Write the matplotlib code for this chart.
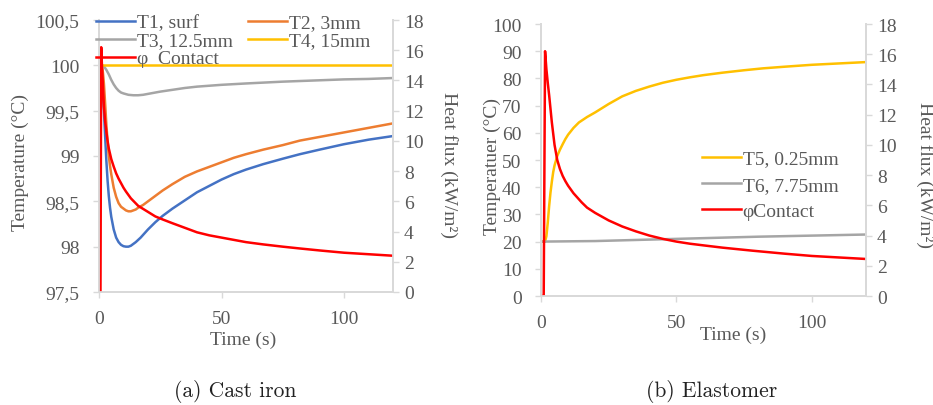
import matplotlib
matplotlib.use("Agg")
import matplotlib.pyplot as plt
from matplotlib.lines import Line2D

plt.rcParams['font.family'] = ['Liberation Serif', 'DejaVu Serif']
plt.rcParams['font.size'] = 14
TXT = '#595959'
SPINE = '#D9D9D9'

# ---- (a) cast iron ----
t_t1 = [0, 1, 1.3, 1.6, 2, 2.5, 3, 3.5, 4, 4.5, 5, 6, 7, 8, 9, 10, 11, 12, 13, 14, 15, 17, 20,
        23, 26, 30, 35, 40, 45, 50, 55, 60, 67, 75, 82, 90, 100, 110, 120]
T1 = [100, 100, 99.9, 99.75, 99.5, 99.22, 98.95, 98.73, 98.56, 98.43, 98.33, 98.19, 98.1, 98.05,
      98.02, 98.005, 98.0, 98.0, 98.01, 98.03, 98.05, 98.1, 98.19, 98.27, 98.34, 98.42, 98.51,
      98.6, 98.67, 98.74, 98.8, 98.85, 98.91, 98.97, 99.02, 99.07, 99.13, 99.18, 99.22]
t_t2 = [0, 1, 1.3, 1.6, 2, 2.5, 3, 3.5, 4, 4.5, 5, 6, 7, 8, 9, 10, 11, 12, 13, 14, 15, 16, 18,
        20, 23, 26, 30, 35, 40, 45, 50, 55, 60, 67, 75, 82, 90, 100, 110, 120]
T2 = [100, 100, 99.98, 99.92, 99.8, 99.58, 99.35, 99.16, 99.0, 98.89, 98.8, 98.65, 98.55, 98.48,
      98.44, 98.42, 98.4, 98.39, 98.39, 98.4, 98.41, 98.43, 98.46, 98.5, 98.56, 98.62, 98.69,
      98.77, 98.83, 98.88, 98.93, 98.98, 99.02, 99.07, 99.12, 99.17, 99.21, 99.26, 99.31, 99.36]
t_t3 = [0, 1, 2, 3, 4, 5, 6, 7, 8, 9, 10, 12, 14, 16, 18, 21, 25, 30, 35, 40, 50, 60, 75, 90,
        100, 110, 120]
T3 = [100, 100, 99.99, 99.95, 99.9, 99.84, 99.79, 99.75, 99.72, 99.7, 99.69, 99.675, 99.67,
      99.67, 99.675, 99.69, 99.71, 99.73, 99.75, 99.765, 99.785, 99.8, 99.82, 99.835, 99.845,
      99.85, 99.86]
t_t4 = [0, 120]
T4 = [100, 100]
t_qa = [0, 0.6, 0.9, 1.2, 1.5, 2, 2.5, 3, 3.5, 4, 5, 6, 7, 8, 9, 10, 11, 13, 16, 20, 23, 26, 30,
        35, 40, 45, 50, 55, 60, 67, 75, 82, 90, 100, 110, 120]
q_a = [0, 0, 16.2, 15.0, 14.0, 12.3, 11.3, 10.6, 10.0, 9.5, 8.8, 8.3, 7.85, 7.5, 7.2, 6.9, 6.65,
       6.2, 5.7, 5.3, 5.0, 4.8, 4.55, 4.25, 3.95, 3.75, 3.6, 3.45, 3.3, 3.15, 3.0, 2.88, 2.75,
       2.6, 2.5, 2.4]

# ---- (b) elastomer ----
t_t5 = [0, 1.5, 2, 2.5, 3, 3.5, 4, 4.5, 5, 6, 7, 8, 9, 10, 12, 14, 17, 20, 25, 30, 35, 40, 45,
        50, 55, 60, 67, 75, 82, 90, 100, 110, 120]
T5 = [20, 20, 22, 27, 33, 38, 42, 45.5, 48, 51.5, 53.8, 55.8, 57.7, 59.3, 61.8, 63.8, 65.8, 67.5,
      70.6, 73.4, 75.4, 77, 78.4, 79.5, 80.4, 81.2, 82.1, 83, 83.7, 84.3, 85, 85.5, 86]
t_t6 = [0, 20, 50, 80, 120]
T6 = [20, 20.2, 21.0, 21.8, 22.6]
t_qb = [0, 1, 1.5, 2, 2.5, 3, 3.5, 4, 5, 6, 7, 8, 9, 10, 12, 15, 17, 20, 25, 30, 35, 40, 45, 50,
        55, 60, 67, 78, 90, 100, 110, 120]
q_b = [0, 0, 16.2, 15.0, 14.1, 13.3, 12.4, 11.5, 10.0, 9.0, 8.4, 7.95, 7.6, 7.3, 6.8, 6.2, 5.85,
       5.5, 5.0, 4.6, 4.28, 4.0, 3.78, 3.6, 3.46, 3.35, 3.2, 3.0, 2.8, 2.65, 2.55, 2.45]

xticks = [0, 50, 100]
ticks_a = [97.5, 98, 98.5, 99, 99.5, 100, 100.5]
ticklabels_a = ['97,5', '98', '98,5', '99', '99,5', '100', '100,5']
ticks_b = [0, 10, 20, 30, 40, 50, 60, 70, 80, 90, 100]
ticks_q = [0, 2, 4, 6, 8, 10, 12, 14, 16, 18]

BLUE, ORANGE, GRAY, YELLOW, RED = '#4472C4', '#ED7D31', '#A5A5A5', '#FFC000', '#FF0000'
LW = 1.8


def style(ax, ax2):
    for a in (ax, ax2):
        for s in a.spines.values():
            s.set_color(SPINE)
            s.set_linewidth(1.3)
        a.spines['top'].set_visible(False)
        a.tick_params(colors=TXT, labelcolor=TXT, length=4, width=1.0, color=SPINE)
    ax.tick_params(axis='y', pad=10)
    ax.tick_params(axis='x', pad=9)
    ax2.tick_params(axis='y', pad=4)
    ax2.set_ylim(0, 18)
    ax2.set_yticks(ticks_q)
    ax.set_xlim(0, 120)
    ax.set_xticks(xticks)


fig = plt.figure(figsize=(9.33, 4.06), dpi=100)

# panel (a)
ax = fig.add_axes([99 / 933, 1 - 293 / 406, 294 / 933, 272 / 406])
ax2 = ax.twinx()
ax.plot(t_t1, T1, color=BLUE, lw=LW)
ax.plot(t_t2, T2, color=ORANGE, lw=LW)
ax.plot(t_t3, T3, color=GRAY, lw=LW)
ax.plot(t_t4, T4, color=YELLOW, lw=LW)
ax2.plot(t_qa, q_a, color=RED, lw=LW)
ax.set_ylim(97.5, 100.5)
ax.set_yticks(ticks_a)
ax.set_yticklabels(ticklabels_a)
style(ax, ax2)
ax.text(0.49, -0.175, 'Time (s)', transform=ax.transAxes, ha='center', va='center', color=TXT)
ax.text(-0.268, 0.48, 'Temperature (°C)', transform=ax.transAxes, ha='center', va='center',
        rotation=90, color=TXT)
ax.text(1.19, 0.47, 'Heat flux (kW/m²)', transform=ax.transAxes, ha='center', va='center',
        rotation=270, color=TXT)
h = [Line2D([], [], color=BLUE, lw=LW), Line2D([], [], color=GRAY, lw=LW),
     Line2D([], [], color=RED, lw=LW), Line2D([], [], color=ORANGE, lw=LW),
     Line2D([], [], color=YELLOW, lw=LW)]
lab = ['T1, surf', 'T3, 12.5mm', 'φ  Contact', 'T2, 3mm', 'T4, 15mm']
leg = fig.legend(h, lab, loc='upper left', bbox_to_anchor=(86 / 933, 1 - 5 / 406), ncol=2,
                 frameon=False, borderpad=0, handlelength=2.0, handletextpad=0.1,
                 labelspacing=0.02, columnspacing=0.8, fontsize=14)
for tx in leg.get_texts():
    tx.set_color(TXT)

# panel (b)
bx = fig.add_axes([541 / 933, 1 - 297 / 406, 325 / 933, 272 / 406])
bx2 = bx.twinx()
bx.plot(t_t5, T5, color=YELLOW, lw=LW)
bx.plot(t_t6, T6, color=GRAY, lw=LW)
bx2.plot(t_qb, q_b, color=RED, lw=LW)
bx.set_ylim(0, 100)
bx.set_yticks(ticks_b)
style(bx, bx2)
bx.text(0.59, -0.14, 'Time (s)', transform=bx.transAxes, ha='center', va='center', color=TXT)
bx.text(-0.15, 0.48, 'Temperatuer (°C)', transform=bx.transAxes, ha='center', va='center',
        rotation=90, color=TXT)
bx.text(1.18, 0.45, 'Heat flux (kW/m²)', transform=bx.transAxes, ha='center', va='center',
        rotation=270, color=TXT)
h = [Line2D([], [], color=YELLOW, lw=LW), Line2D([], [], color=GRAY, lw=LW),
     Line2D([], [], color=RED, lw=LW)]
lab = ['T5, 0.25mm', 'T6, 7.75mm', 'φContact']
leg = bx.legend(h, lab, loc='upper left', bbox_to_anchor=(0.465, 1 - 116 / 272), frameon=False,
                borderpad=0, handlelength=2.0, handletextpad=0.1, labelspacing=0.45, fontsize=14)
for tx in leg.get_texts():
    tx.set_color(TXT)

fig.text(235 / 933, 1 - 392 / 406, '(a) Cast iron', family='cmr10', fontsize=15.5, color='#222222',
         ha='center', va='center')
fig.text(712 / 933, 1 - 392 / 406, '(b) Elastomer', family='cmr10', fontsize=15.5, color='#222222',
         ha='center', va='center')

fig.savefig('out.png', dpi=100)
